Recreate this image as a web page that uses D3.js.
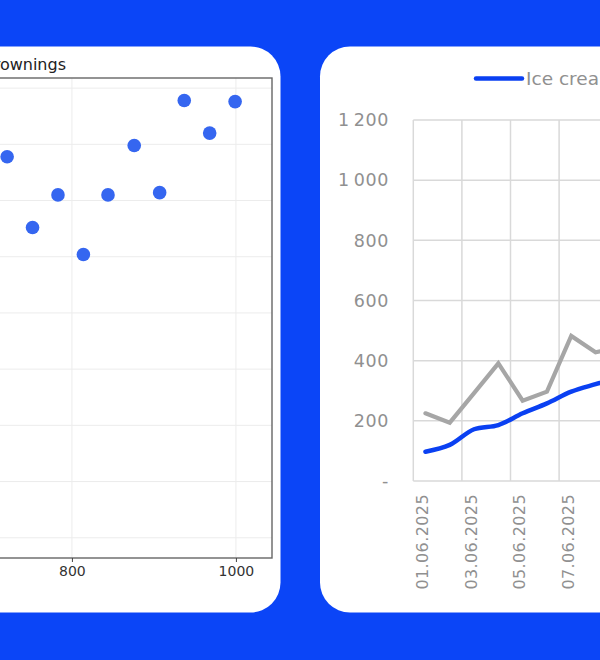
<!DOCTYPE html>
<html>
<head>
<meta charset="utf-8">
<script src="https://cdn.jsdelivr.net/npm/d3@7"></script>
<style>
  html, body { margin: 0; padding: 0; background: #0b45f7; }
  svg { display: block; }
</style>
</head>
<body>
<svg id="chart" width="600" height="660"></svg>
<script>
// ---- left chart data (scatter) ----
var scatterX = [721, 752, 783, 814, 844, 876, 907, 937, 968, 999];
var scatterY = [53.9, 47.6, 50.5, 45.2, 50.5, 54.9, 50.7, 58.9, 56.0, 58.8];
var scatterXTicks = [800, 1000];
var scatterYTicks = [20, 25, 30, 35, 40, 45, 50, 55, 60];
var scatterTitle = "Ice cream sales vs drownings";

// ---- right chart data (lines) ----
var days = ["01.06.2025", "02.06.2025", "03.06.2025", "04.06.2025", "05.06.2025",
            "06.06.2025", "07.06.2025", "08.06.2025", "09.06.2025"];
var iceCream = [97, 120, 172, 186, 225, 258, 297, 322, 345];
var drownings = [225, 194, 292, 391, 267, 297, 482, 428, 445];
var lineYTicks = [0, 200, 400, 600, 800, 1000, 1200];
var legendLabel = "Ice cream sales";

var svg = d3.select("#chart");

// cards
svg.append("rect").attr("x", -300).attr("y", 46.5).attr("width", 580.5).attr("height", 566)
  .attr("rx", 30).attr("fill", "#fff");
svg.append("rect").attr("x", 320).attr("y", 46.5).attr("width", 420).attr("height", 566)
  .attr("rx", 30).attr("fill", "#fff");

// ================= left: scatter =================
var sx = d3.scaleLinear().domain([420, 1044]).range([-239.7, 272]);
var sy = d3.scaleLinear().domain([18.2, 60.9]).range([558, 78]);

var left = svg.append("g");

left.append("g").selectAll("line").data(scatterXTicks).enter().append("line")
  .attr("x1", function(d) { return sx(d); }).attr("x2", function(d) { return sx(d); })
  .attr("y1", sy.range()[1]).attr("y2", sy.range()[0])
  .attr("stroke", "#ececec").attr("stroke-width", 1);
left.append("g").selectAll("line").data(scatterYTicks).enter().append("line")
  .attr("x1", sx.range()[0]).attr("x2", sx.range()[1])
  .attr("y1", function(d) { return sy(d); }).attr("y2", function(d) { return sy(d); })
  .attr("stroke", "#ececec").attr("stroke-width", 1);

left.append("g").selectAll("circle").data(scatterX).enter().append("circle")
  .attr("cx", function(d) { return sx(d); })
  .attr("cy", function(d, i) { return sy(scatterY[i]); })
  .attr("r", 6.8)
  .attr("fill", "#3566f0");

// frame
left.append("rect")
  .attr("x", sx.range()[0]).attr("y", sy.range()[1])
  .attr("width", sx.range()[1] - sx.range()[0]).attr("height", sy.range()[0] - sy.range()[1])
  .attr("fill", "none").attr("stroke", "#666").attr("stroke-width", 1.4);

var xAxisL = left.append("g").attr("transform", "translate(0," + sy.range()[0] + ")")
  .call(d3.axisBottom(sx).tickValues(scatterXTicks).tickSize(4).tickPadding(4).tickFormat(d3.format("d")));
xAxisL.select(".domain").remove();
xAxisL.selectAll("line").attr("stroke", "#444");
xAxisL.selectAll("text").attr("fill", "#333").style("font-family", "DejaVu Sans").style("font-size", "14px");

left.append("text")
  .attr("x", 66).attr("y", 70)
  .attr("text-anchor", "end")
  .attr("fill", "#222")
  .style("font-family", "DejaVu Sans").style("font-size", "16px")
  .text(scatterTitle);

// ================= right: lines =================
var step = 24.3;
var lx = d3.scaleBand().domain(days).range([413.3, 413.3 + step * days.length]).padding(0);
var ly = d3.scaleLinear().domain([0, 1200]).range([481, 120]);
var cx = function(d) { return lx(d) + lx.bandwidth() / 2; };

var right = svg.append("g");
var plotRight = lx.range()[1];

right.append("g").selectAll("line").data(lineYTicks).enter().append("line")
  .attr("x1", lx.range()[0]).attr("x2", plotRight)
  .attr("y1", function(d) { return ly(d); }).attr("y2", function(d) { return ly(d); })
  .attr("stroke", "#d9d9d9").attr("stroke-width", 1.5);

var labelDays = days.filter(function(d, i) { return i % 2 === 0; });
right.append("g").selectAll("line").data(labelDays).enter().append("line")
  .attr("x1", function(d) { return lx(d); }).attr("x2", function(d) { return lx(d); })
  .attr("y1", ly(1200)).attr("y2", ly(0))
  .attr("stroke", "#d9d9d9").attr("stroke-width", 1.5);

var yFmt = function(d) { return d === 0 ? "-" : d3.format(",")(d).replace(/,/g, "\u2009"); };
right.append("g").selectAll("text").data(lineYTicks).enter().append("text")
  .attr("x", 389).attr("y", function(d) { return ly(d); })
  .attr("dy", "0.36em")
  .attr("text-anchor", "end")
  .attr("fill", "#909090")
  .style("font-family", "DejaVu Sans").style("font-size", "17.5px")
  .style("letter-spacing", "0.6px")
  .text(yFmt);

// only labels that fall inside the card
right.append("g").selectAll("text").data(labelDays.filter(function(d) { return cx(d) < 600; }))
  .enter().append("text")
  .attr("transform", function(d) { return "translate(" + (cx(d) - 3) + ",494) rotate(-90)"; })
  .attr("dy", "0.36em")
  .attr("text-anchor", "end")
  .attr("fill", "#909090")
  .style("font-family", "DejaVu Sans").style("font-size", "16px")
  .style("letter-spacing", "0.4px")
  .text(function(d) { return d; });

var line = function(vals, curve) {
  return d3.line()
    .x(function(d, i) { return cx(days[i]); })
    .y(function(d) { return ly(d); })
    .curve(curve)(vals);
};

right.append("path").attr("d", line(drownings, d3.curveLinear))
  .attr("fill", "none").attr("stroke", "#a6a6a6").attr("stroke-width", 4.2)
  .attr("stroke-linejoin", "miter").attr("stroke-linecap", "round");
right.append("path").attr("d", line(iceCream, d3.curveCatmullRom))
  .attr("fill", "none").attr("stroke", "#0a40f2").attr("stroke-width", 4.5)
  .attr("stroke-linejoin", "round").attr("stroke-linecap", "round");

// legend
var lg = right.append("g").attr("transform", "translate(476,78.5)");
lg.append("line").attr("x1", 0).attr("x2", 46).attr("y1", 0).attr("y2", 0)
  .attr("stroke", "#0a40f2").attr("stroke-width", 4.5).attr("stroke-linecap", "round");
lg.append("text").attr("x", 50).attr("dy", "0.36em")
  .attr("fill", "#909090")
  .style("font-family", "DejaVu Sans").style("font-size", "18.5px")
  .text(legendLabel);
</script>
</body>
</html>
